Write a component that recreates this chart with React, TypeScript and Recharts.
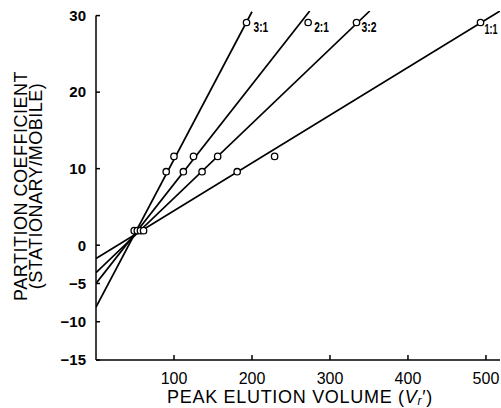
import React from 'react';
import { ComposedChart, XAxis, YAxis, Scatter, ReferenceLine } from 'recharts';

// partition coefficient K (stationary/mobile), same set for every solvent ratio
const kValues = [1.9, 9.6, 11.6, 29.1];

// peak elution volume Vr' for each ratio
const ratios = ['3:1', '2:1', '3:2', '1:1'];
const vr31 = [49, 90, 100, 193];
const vr21 = [53, 112, 125, 272];
const vr32 = [57, 136, 156, 334];
const vr11 = [61, 181, 229, 493];

// fitted straight lines, read at both ends
const fit31 = [{ x: 0, y: -8.1 }, { x: 200, y: 30.5 }];
const fit21 = [{ x: 0, y: -5.0 }, { x: 274, y: 30.6 }];
const fit32 = [{ x: 0, y: -3.6 }, { x: 351, y: 30.6 }];
const fit11 = [{ x: 0, y: -1.75 }, { x: 518, y: 30.6 }];

const xTicks = [100, 200, 300, 400, 500];
const yTicks = [-15, -10, -5, 0, 10, 20, 30];

const series = [
  { name: ratios[0], vr: vr31, fit: fit31, dx: 7, dy: 10, sx: 0.7 },
  { name: ratios[1], vr: vr21, fit: fit21, dx: 6, dy: 10, sx: 0.7 },
  { name: ratios[2], vr: vr32, fit: fit32, dx: 5, dy: 10, sx: 0.72 },
  { name: ratios[3], vr: vr11, fit: fit11, dx: 4, dy: 12, sx: 0.62 },
];

const font = '"Liberation Sans", Arial, sans-serif';

const fmt = (v: number) => (v < 0 ? '\u2212' + Math.abs(v) : String(v));

export default function App() {
  return (
    <div style={{ position: 'absolute', left: 0, top: 0, background: '#fff' }}>
      <ComposedChart
        width={501}
        height={408}
        margin={{ top: 11, right: 1, bottom: 0, left: 0 }}
      >
        <XAxis
          type="number"
          dataKey="x"
          domain={[0, 518]}
          ticks={xTicks}
          height={48}
          stroke="#000"
          strokeWidth={1.5}
          tickSize={-5}
          tickMargin={18}
          tick={{ fill: '#000', fontSize: 16, fontFamily: font }}
          allowDataOverflow
          label={{
            content: () => (
              <text
                x={300}
                y={403}
                textAnchor="middle"
                fontFamily={font}
                fontSize={18}
                letterSpacing={0.7}
                fill="#000"
              >
                PEAK ELUTION VOLUME (
                <tspan fontStyle="italic">V</tspan>
                <tspan fontStyle="italic" fontSize={12} dy={2}>
                  r
                </tspan>
                <tspan dy={-2}>{'\u2032)'}</tspan>
              </text>
            ),
          }}
        />
        <YAxis
          type="number"
          dataKey="y"
          domain={[-15, 30.6]}
          ticks={yTicks}
          width={96}
          axisLine={false}
          stroke="#000"
          strokeWidth={1.5}
          tickSize={-4}
          tickMargin={14}
          tickFormatter={fmt}
          tick={{ fill: '#000', fontSize: 15, fontWeight: 'bold', fontFamily: font }}
          allowDataOverflow
          label={{
            content: () => (
              <g fontFamily={font} fontSize={18} letterSpacing={0.5} fill="#000" textAnchor="middle">
                <text x={27} y={186} transform="rotate(-90 27 186)">
                  PARTITION COEFFICIENT
                </text>
                <text x={42} y={186} transform="rotate(-90 42 186)">
                  (STATIONARY/MOBILE)
                </text>
              </g>
            ),
          }}
        />
        <ReferenceLine
          segment={[
            { x: 0, y: -15 },
            { x: 0, y: 30 },
          ]}
          stroke="#000"
          strokeWidth={1.5}
        />
        {series.map((s) => (
          <Scatter
            key={'fit' + s.name}
            data={s.fit}
            line={{ stroke: '#000', strokeWidth: 1.7 }}
            shape={() => <g />}
            isAnimationActive={false}
          />
        ))}
        {series.map((s) => (
          <Scatter
            key={'pts' + s.name}
            data={s.vr.map((x, i) => ({
              x,
              y: kValues[i],
              tag: i === kValues.length - 1 ? s.name : '',
            }))}
            isAnimationActive={false}
            shape={(p: any) => (
              <g>
                <circle cx={p.cx} cy={p.cy} r={3.2} fill="#fff" stroke="#000" strokeWidth={1.3} />
                {p.payload.tag ? (
                  <text
                    transform={`translate(${p.cx + s.dx} ${p.cy + s.dy}) scale(${s.sx} 1)`}
                    fontFamily={font}
                    fontWeight="bold"
                    fontSize={14.5}
                    fill="#000"
                  >
                    {p.payload.tag}
                  </text>
                ) : null}
              </g>
            )}
          />
        ))}
      </ComposedChart>
    </div>
  );
}
